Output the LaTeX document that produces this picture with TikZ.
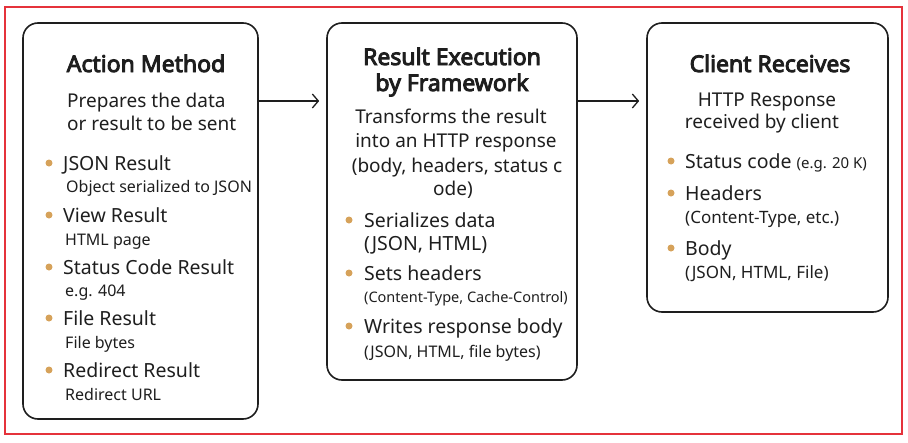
\documentclass[tikz,border=0pt]{standalone}
\usepackage{fontspec}
\setmainfont{Noto Sans}[AutoFakeBold=4]
\usetikzlibrary{arrows.meta}
\definecolor{frame}{HTML}{E5323B}
\definecolor{bul}{HTML}{D6A25A}
\definecolor{ink}{HTML}{1E1E1E}
\begin{document}
\begin{tikzpicture}[x=1pt,y=-1pt,
  box/.style={draw=ink,line width=1.6pt,rounded corners=15pt,minimum width=#1,inner sep=0pt},
  ttl/.style={font=\fontsize{23}{26}\selectfont\bfseries,inner sep=0pt,anchor=base,text=ink},
  desc/.style={font=\fontsize{19}{23}\selectfont,inner sep=0pt,text=ink},
  item/.style={font=\fontsize{19.5}{23}\selectfont,inner sep=0pt,anchor=base west,text=ink},
  sub/.style={font=\fontsize{16}{20}\selectfont,inner sep=0pt,anchor=base west,text=ink},
  dot/.style={circle,fill=bul,inner sep=0pt,minimum size=7pt},
  arr/.style={draw=ink,line width=1.3pt,-{Straight Barb[length=6pt,width=14pt,line width=1.3pt]},shorten >=7pt}]
\useasboundingbox (0,0) rectangle (908,442);
\draw[frame,line width=2pt] (5,7) rectangle (902,434);
% boxes
\node[box=235pt,minimum height=396pt] (b1) at (140.5,221) {};
\node[box=250pt,minimum height=357pt] (b2) at (452,201.5) {};
\node[box=241pt,minimum height=289pt] (b3) at (767.5,167.5) {};
\coordinate (ay) at (0,101);
\draw[arr] (b1.east |- ay) -- (b2.west |- ay);
\draw[arr] (b2.east |- ay) -- (b3.west |- ay);
% box 1
\node[ttl] (t1) at (146,72) {Action Method};
\node[desc,anchor=base west] (d1a) at (67,107) {Prepares the data};
\node[desc,anchor=base west] (d1b) at (67,130) {or result to be sent};
\node[dot] (p11) at (49,163) {};
\node[item] (i11) at (63,170) {JSON Result};
\node[sub] (s11) at (66,192) {Object serialized to JSON};
\node[dot] (p12) at (49,215) {};
\node[item] (i12) at (63,222) {View Result};
\node[sub] (s12) at (65,245) {HTML page};
\node[dot] (p13) at (49,267) {};
\node[item] (i13) at (63,274) {Status Code Result};
\node[sub] (s13) at (65,296) {e.g. 404};
\node[dot] (p14) at (49,318) {};
\node[item] (i14) at (63,325) {File Result};
\node[sub] (s14) at (65,348) {File bytes};
\node[dot] (p15) at (49,370) {};
\node[item] (i15) at (63,377) {Redirect Result};
\node[sub] (s15) at (65,400) {Redirect URL};
% box 2
\node[ttl] (t2a) at (452,65) {Result Execution};
\node[ttl] (t2b) at (452,91) {by Framework};
\node[desc,anchor=base] (d2a) at (451,123) {Transforms the result};
\node[desc,anchor=base] (d2b) at (456,147) {into an HTTP response};
\node[desc,anchor=base] (d2c) at (457,172) {(body, headers, status c};
\node[desc,anchor=base] (d2d) at (453,195) {ode)};
\node[dot] (p21) at (349,220) {};
\node[item] (i21) at (364,227) {Serializes data};
\node[item] (i21b) at (364,250) {(JSON, HTML)};
\node[dot] (p22) at (349,273) {};
\node[item] (i22) at (364,280) {Sets headers};
\node[sub,font=\fontsize{14.5}{18}\selectfont] (s22) at (364,302) {(Content-Type, Cache-Control)};
\node[dot] (p23) at (349,326) {};
\node[item] (i23) at (364,333) {Writes response body};
\node[sub] (s23) at (364,357) {(JSON, HTML, file bytes)};
% box 3
\node[ttl] (t3) at (770,72) {Client Receives};
\node[desc,anchor=base] (d3a) at (767,106) {HTTP Response};
\node[desc,anchor=base] (d3b) at (762,128) {received by client};
\node[dot] (p31) at (671,161) {};
\node[item] (i31) at (685,168) {Status code \fontsize{15}{18}\selectfont(e.g. 20 K)};
\node[dot] (p32) at (671,193) {};
\node[item] (i32) at (685,200) {Headers};
\node[sub,font=\fontsize{17}{20}\selectfont] (s32) at (685,223) {(Content-Type, etc.)};
\node[dot] (p33) at (671,248) {};
\node[item] (i33) at (685,255) {Body};
\node[sub,font=\fontsize{17}{20}\selectfont] (s33) at (685,278) {(JSON, HTML, File)};
\end{tikzpicture}
\end{document}
